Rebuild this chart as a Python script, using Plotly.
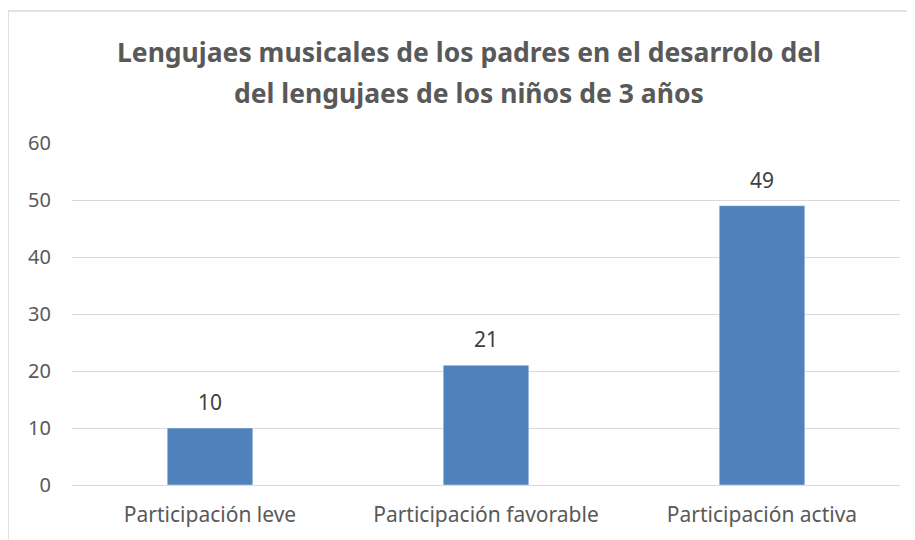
import plotly.graph_objects as go

categories = ["Participación leve", "Participación favorable", "Participación activa"]
values = [10, 21, 49]
y_ticks = [0, 10, 20, 30, 40, 50, 60]
title_lines = ["Lengujaes musicales de los padres en el desarrolo del",
               "del lengujaes de los niños de 3 años"]

font_family = "Noto Sans, Open Sans, sans-serif"
grey = "#595959"

# plot area in figure pixels (browser body adds 8px offset)
L, R, T, B = 64, 23, 135, 63
W, H = 915, 540
pw, ph = W - L - R, H - T - B

fig = go.Figure(go.Bar(
    x=categories, y=values,
    marker=dict(color="#4F81BD"),
    width=0.31,
))

annotations = []
for c, v in zip(categories, values):
    annotations.append(dict(x=c, y=v, xref="x", yref="y", text=str(v), showarrow=False,
                            yanchor="bottom", yshift=10,
                            font=dict(size=21, color="#404040", family=font_family)))
title_y = [44, 85]
for line, ty in zip(title_lines, title_y):
    annotations.append(dict(x=(460.5 - L) / pw, y=1 + (T - ty) / ph, xref="paper", yref="paper",
                            text=line, showarrow=False, xanchor="center", yanchor="middle",
                            font=dict(size=26.5, color=grey, family=font_family, weight="bold")))

fig.update_layout(
    width=W, height=H,
    margin=dict(l=L, r=R, t=T, b=B),
    paper_bgcolor="white", plot_bgcolor="white",
    showlegend=False,
    annotations=annotations,
    xaxis=dict(showline=False, ticks="", tickfont=dict(size=21, color=grey, family=font_family),
               ticklabelstandoff=15),
    yaxis=dict(range=[0, 60], tickvals=y_ticks, showgrid=True, gridcolor="#D9D9D9", gridwidth=1,
               zeroline=True, zerolinecolor="#D9D9D9", zerolinewidth=1,
               tickfont=dict(size=20, color=grey, family=font_family), ticklabelstandoff=20),
    shapes=[dict(type="rect", xref="paper", yref="paper", x0=-L / pw, x1=1.2, y0=-0.4, y1=1 + (T - 3) / ph,
                 line=dict(color="#D9D9D9", width=1.5), fillcolor="rgba(0,0,0,0)")],
)

fig.write_html("out.html")
